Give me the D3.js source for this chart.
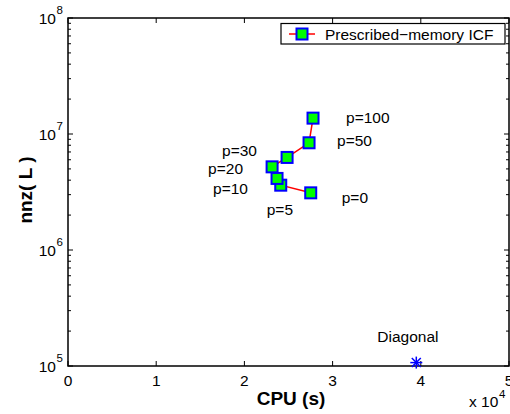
<!DOCTYPE html>
<html><head><meta charset="utf-8">
<script src="https://cdn.jsdelivr.net/npm/d3@7"></script>
<style>
body{margin:0;background:#fff;}
svg{display:block;font-family:"Liberation Sans",Arial,Helvetica,sans-serif;}
</style></head>
<body>
<svg id="chart" width="510" height="414"></svg>
<script>
// ---- data ----
const pLabels = ["p=0","p=5","p=10","p=20","p=30","p=50","p=100"];
const cpuTime = [27520, 24120, 23700, 23140, 24840, 27330, 27780];
const nnzL    = [3.11e6, 3.62e6, 4.14e6, 5.21e6, 6.28e6, 8.40e6, 1.37e7];
const diagLabel = ["Diagonal"];
const diagCpu = [39490];
const diagNnz = [1.07e5];
const xTicks = [0, 10000, 20000, 30000, 40000, 50000];
const yTicks = [1e5, 1e6, 1e7, 1e8];
const seriesName = "Prescribed\u2212memory ICF";

// ---- layout ----
const svg = d3.select("#chart");
const L = 68, R = 509, T = 18, B = 366;
const x = d3.scaleLinear().domain([0, 50000]).range([L, R]);
const y = d3.scaleLog().domain([1e5, 1e8]).range([B, T]);
const fs = 15.5;

// label offsets (pixels, from marker centre to text left / vertical centre)
const labelOffsets = [[31,5],[-14,24],[-64,10],[-64,2],[-65,-7],[28,-2],[33,-1]];
const diagOffset = [-39,-26];

// minor ticks for log axis
const minor = [];
for (let e = 5; e < 8; e++) for (let m = 2; m <= 9; m++) minor.push(m * Math.pow(10, e));

const g = svg.append("g");
// axes box
g.append("rect").attr("x", L).attr("y", T).attr("width", R - L).attr("height", B - T)
  .attr("fill", "none").attr("stroke", "#000").attr("stroke-width", 1.5);

// x ticks (bottom & top, inward)
xTicks.forEach(v => {
  g.append("line").attr("x1", x(v)).attr("x2", x(v)).attr("y1", B).attr("y2", B - 5).attr("stroke", "#000");
  g.append("line").attr("x1", x(v)).attr("x2", x(v)).attr("y1", T).attr("y2", T + 5).attr("stroke", "#000");
  g.append("text").attr("x", x(v)).attr("y", B + 20).attr("text-anchor", "middle")
    .attr("font-size", fs).text(d3.format("d")(v / 1e4));
});
// y major ticks
yTicks.forEach(v => {
  g.append("line").attr("x1", L).attr("x2", L + 5).attr("y1", y(v)).attr("y2", y(v)).attr("stroke", "#000");
  g.append("line").attr("x1", R).attr("x2", R - 5).attr("y1", y(v)).attr("y2", y(v)).attr("stroke", "#000");
  g.append("text").attr("x", 56).attr("y", y(v) + 6).attr("text-anchor", "end").attr("font-size", fs).text("10");
  g.append("text").attr("x", 56.5).attr("y", y(v) - 4).attr("font-size", 11.5).text(Math.round(Math.log10(v)));
});
// y minor ticks
minor.forEach(v => {
  g.append("line").attr("x1", L).attr("x2", L + 3).attr("y1", y(v)).attr("y2", y(v)).attr("stroke", "#000");
  g.append("line").attr("x1", R).attr("x2", R - 3).attr("y1", y(v)).attr("y2", y(v)).attr("stroke", "#000");
});

// axis labels
g.append("text").attr("x", 291).attr("y", 405).attr("text-anchor", "middle")
  .attr("font-size", 19).attr("font-weight", "bold").text("CPU (s)");
g.append("text").attr("transform", "translate(32,190) rotate(-90)").attr("text-anchor", "middle")
  .attr("font-size", 19).attr("font-weight", "bold").text("nnz( L )");
// exponent multiplier
g.append("text").attr("x", 469).attr("y", 407).attr("font-size", fs).text("x 10");
g.append("text").attr("x", 499).attr("y", 398).attr("font-size", 11.5).text("4");

// series
const pts = cpuTime.map((c, i) => ({x: c, y: nnzL[i], label: pLabels[i], off: labelOffsets[i]}));
g.append("path").datum(pts)
  .attr("d", d3.line().x(d => x(d.x)).y(d => y(d.y)))
  .attr("fill", "none").attr("stroke", "#ff0000").attr("stroke-width", 1.5);
const ms = 11;
g.selectAll("rect.mk").data(pts).enter().append("rect").attr("class", "mk")
  .attr("x", d => x(d.x) - ms / 2).attr("y", d => y(d.y) - ms / 2)
  .attr("width", ms).attr("height", ms)
  .attr("fill", "#00ff00").attr("stroke", "#0000ff").attr("stroke-width", 2);
g.selectAll("text.pl").data(pts).enter().append("text").attr("class", "pl")
  .attr("x", d => x(d.x) + d.off[0]).attr("y", d => y(d.y) + d.off[1] + 5.5)
  .attr("font-size", fs).text(d => d.label);

// diagonal point (asterisk)
diagCpu.forEach((c, i) => {
  const cx = x(c), cy = y(diagNnz[i]), r = 6;
  const a = g.append("g").attr("stroke", "#0000ff").attr("stroke-width", 1.5);
  a.append("line").attr("x1", cx - r).attr("x2", cx + r).attr("y1", cy).attr("y2", cy);
  a.append("line").attr("x1", cx).attr("x2", cx).attr("y1", cy - r).attr("y2", cy + r);
  const d = r * 0.75;
  a.append("line").attr("x1", cx - d).attr("x2", cx + d).attr("y1", cy - d).attr("y2", cy + d);
  a.append("line").attr("x1", cx - d).attr("x2", cx + d).attr("y1", cy + d).attr("y2", cy - d);
  g.append("text").attr("x", cx + diagOffset[0]).attr("y", cy + diagOffset[1] + 5.5)
    .attr("font-size", fs).text(diagLabel[i]);
});

// legend
const lg = g.append("g");
lg.append("rect").attr("x", 281).attr("y", 23.5).attr("width", 224).attr("height", 20.5)
  .attr("fill", "#fff").attr("stroke", "#000").attr("stroke-width", 1.2);
lg.append("line").attr("x1", 289).attr("x2", 315).attr("y1", 34).attr("y2", 34)
  .attr("stroke", "#ff0000").attr("stroke-width", 1.5);
lg.append("rect").attr("x", 302 - ms / 2).attr("y", 34 - ms / 2).attr("width", ms).attr("height", ms)
  .attr("fill", "#00ff00").attr("stroke", "#0000ff").attr("stroke-width", 2);
lg.append("text").attr("x", 325).attr("y", 39.5).attr("font-size", fs).text(seriesName);
</script>
</body></html>
